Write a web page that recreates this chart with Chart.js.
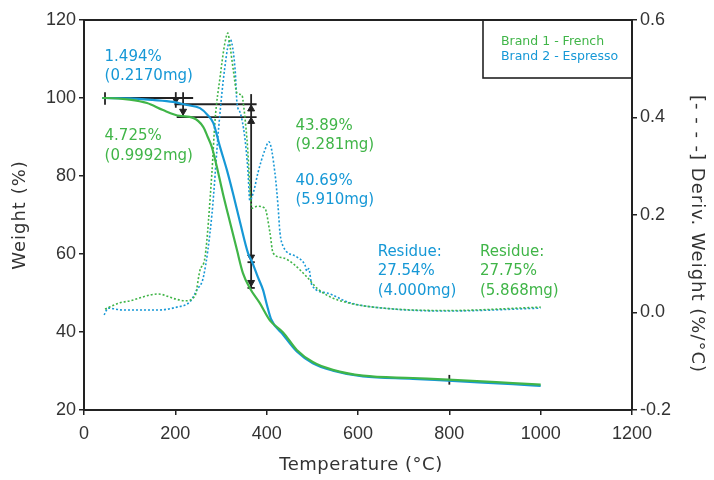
<!DOCTYPE html>
<html>
<head>
<meta charset="utf-8">
<script src="https://cdn.jsdelivr.net/npm/chart.js@4"></script>
<style>
  html, body { margin: 0; padding: 0; background: #fff; }
  #wrap { width: 714px; height: 480px; }
</style>
</head>
<body>
<div id="wrap"><canvas id="tga"></canvas></div>
<script>
// weight curves (Temperature °C -> Weight %)
const frenchTemp   = [40, 50, 100, 138, 173, 210, 239, 261, 271, 280, 291, 304, 320, 335, 348, 363, 385, 407, 436, 466, 501, 545, 611, 720, 797, 939, 1000];
const frenchWeight = [100, 100, 99.6, 98.7, 96.9, 95.4, 94.9, 92.6, 90, 87.4, 82.3, 75.6, 68, 61, 55.1, 51.3, 47.4, 43, 39.9, 35.4, 32.3, 30.3, 28.8, 28.2, 27.8, 26.9, 26.5];
const espressoTemp   = [40, 100, 150, 195, 225, 254, 271, 283, 298, 313, 327, 342, 359, 368, 381, 392, 400, 410, 436, 466, 501, 545, 611, 720, 797, 939, 1000];
const espressoWeight = [100, 99.9, 99.5, 99, 98.2, 97.4, 95.6, 93.6, 87.4, 81.5, 75.2, 68, 60.3, 58, 54, 50.8, 47.2, 43.2, 39.3, 35, 32, 30.1, 28.6, 28, 27.5, 26.6, 26.2];

// derivative curves (Temperature °C -> Deriv. Weight %/°C)
const frenchDerivTemp = [46, 79, 101, 145, 162, 199, 221, 243, 254, 265, 280, 287, 298, 308, 315, 320, 327, 335, 346, 348, 357, 368, 380, 396, 407, 414, 436, 458, 488, 510, 539, 582, 655, 795, 1000];
const frenchDeriv     = [0.007, 0.02, 0.024, 0.036, 0.038, 0.028, 0.024, 0.034, 0.087, 0.114, 0.286, 0.395, 0.483, 0.55, 0.573, 0.545, 0.497, 0.45, 0.446, 0.436, 0.354, 0.214, 0.218, 0.214, 0.165, 0.122, 0.112, 0.1, 0.073, 0.05, 0.032, 0.019, 0.009, 0.004, 0.011];
const espressoDerivTemp = [44, 53, 85, 160, 203, 232, 247, 262, 280, 295, 308, 320, 331, 335, 342, 352, 359, 363, 372, 381, 396, 405, 418, 425, 429, 436, 466, 484, 488, 492, 499, 532, 582, 655, 795, 1000];
const espressoDeriv     = [-0.005, 0.009, 0.005, 0.005, 0.011, 0.022, 0.046, 0.075, 0.2, 0.38, 0.5, 0.56, 0.497, 0.43, 0.41, 0.36, 0.29, 0.23, 0.25, 0.287, 0.333, 0.35, 0.287, 0.217, 0.165, 0.136, 0.114, 0.097, 0.085, 0.09, 0.056, 0.04, 0.02, 0.009, 0.003, 0.009];

// step-change brackets drawn on the weight axis
const bracketTemp   = [[46, 239], [198, 378], [203, 378], [46, 46], [201, 201], [217, 217], [366, 366], [358, 374], [358, 374], [800, 800]];
const bracketWeight = [[100, 100], [98.4, 98.4], [95.1, 95.1], [101.5, 98.3], [101.5, 97.5], [101.5, 95.3], [101, 51.3], [57.9, 57.9], [51.3, 51.3], [29, 26.5]];
const arrowTemp   = [201, 217, 366, 366, 366, 366];
const arrowWeight = [99.6, 96.6, 97.2, 94, 59.2, 52.7];
const arrowRot    = [180, 180, 0, 0, 180, 180];

const xTicks = [0, 200, 400, 600, 800, 1000, 1200];

const green = 'rgb(64, 181, 72)';
const blue = 'rgb(22, 152, 214)';
const ink = '#222';

function pts(xs, ys) {
    return xs.map((x, i) => ({ x: x, y: ys[i] }));
}

const datasets = [
    { data: pts(frenchTemp, frenchWeight), borderColor: green, borderWidth: 2.2, yAxisID: 'y' },
    { data: pts(espressoTemp, espressoWeight), borderColor: blue, borderWidth: 2.2, yAxisID: 'y' },
    { data: pts(frenchDerivTemp, frenchDeriv), borderColor: green, borderWidth: 1.6, borderDash: [2, 2], yAxisID: 'y2' },
    { data: pts(espressoDerivTemp, espressoDeriv), borderColor: blue, borderWidth: 1.6, borderDash: [2, 2], yAxisID: 'y2' }
];
bracketTemp.forEach((t, i) => {
    datasets.push({ data: pts(t, bracketWeight[i]), borderColor: ink, borderWidth: 1.8, tension: 0, yAxisID: 'y' });
});
datasets.push({
    type: 'scatter',
    data: pts(arrowTemp, arrowWeight),
    pointStyle: 'triangle',
    rotation: arrowRot,
    pointRadius: 4,
    backgroundColor: ink,
    borderColor: ink,
    yAxisID: 'y'
});

// text notes, anchored in data coordinates
const notes = [
    { t: 45, w: 110.5, color: blue, lines: ['1.494%', '(0.2170mg)'] },
    { t: 45, w: 90.2, color: green, lines: ['4.725%', '(0.9992mg)'] },
    { t: 463, w: 92.8, color: green, lines: ['43.89%', '(9.281mg)'] },
    { t: 463, w: 78.7, color: blue, lines: ['40.69%', '(5.910mg)'] },
    { t: 643, w: 60.5, color: blue, lines: ['Residue:', '27.54%', '(4.000mg)'] },
    { t: 867, w: 60.5, color: green, lines: ['Residue:', '27.75%', '(5.868mg)'] }
];

const decor = {
    id: 'decor',
    afterDraw(chart) {
        const ctx = chart.ctx;
        const a = chart.chartArea;
        const xs = chart.scales.x, ys = chart.scales.y;
        ctx.save();
        // top frame line
        ctx.strokeStyle = ink;
        ctx.lineWidth = 2;
        ctx.beginPath();
        ctx.moveTo(a.left, a.top);
        ctx.lineTo(a.right, a.top);
        ctx.stroke();

        // legend box
        ctx.lineWidth = 1.6;
        ctx.strokeRect(483, a.top, a.right - 483, 58);
        ctx.font = '12.5px "DejaVu Sans"';
        ctx.textBaseline = 'middle';
        ctx.textAlign = 'left';
        ctx.fillStyle = green;
        ctx.fillText('Brand 1 - French', 501, 42);
        ctx.fillStyle = blue;
        ctx.fillText('Brand 2 - Espresso', 501, 57);

        // notes
        ctx.font = '15px "DejaVu Sans"';
        notes.forEach(n => {
            const px = xs.getPixelForValue(n.t);
            const py = ys.getPixelForValue(n.w);
            ctx.fillStyle = n.color;
            n.lines.forEach((s, i) => ctx.fillText(s, px, py + i * 19.5));
        });

        // axis titles
        ctx.fillStyle = '#333';
        ctx.font = '18px "DejaVu Sans"';
        ctx.textAlign = 'center';
        ctx.letterSpacing = '0.5px';
        ctx.fillText('Temperature (°C)', (a.left + a.right) / 2 + 3, 465);
        ctx.letterSpacing = '1px';
        ctx.save();
        ctx.translate(20, 215);
        ctx.rotate(-Math.PI / 2);
        ctx.fillText('Weight (%)', 0, 0);
        ctx.restore();
        ctx.save();
        ctx.translate(697, 234);
        ctx.rotate(Math.PI / 2);
        ctx.fillText('[- - - -] Deriv. Weight (%/°C)', 0, 0);
        ctx.restore();
        ctx.restore();
    }
};

const tickFont = { family: '"Liberation Sans"', size: 18 };
const gridOpts = { display: true, drawOnChartArea: false, drawTicks: true, tickLength: 5, color: ink, lineWidth: 1.5 };
const borderOpts = { display: true, color: ink, width: 2 };

new Chart(document.getElementById('tga'), {
    type: 'line',
    data: { datasets: datasets },
    options: {
        responsive: true,
        maintainAspectRatio: false,
        animation: false,
        layout: { padding: { top: 20, left: 0, right: 0, bottom: 0 } },
        elements: {
            point: { radius: 0 },
            line: { tension: 0.35, cubicInterpolationMode: 'monotone' }
        },
        plugins: {
            legend: { display: false },
            tooltip: { enabled: false }
        },
        scales: {
            x: {
                type: 'linear',
                min: 0,
                max: 1200,
                afterFit(s) { s.height = 70; },
                afterBuildTicks(s) { s.ticks = xTicks.map(v => ({ value: v })); },
                ticks: { color: '#333', font: tickFont, padding: 8, callback: v => String(v) },
                grid: gridOpts,
                border: borderOpts
            },
            y: {
                position: 'left',
                min: 20,
                max: 120,
                afterFit(s) { s.width = 84; },
                ticks: { stepSize: 20, color: '#333', font: tickFont, padding: 3 },
                grid: gridOpts,
                border: borderOpts
            },
            y2: {
                position: 'right',
                min: -0.2,
                max: 0.6,
                afterFit(s) { s.width = 82; },
                ticks: { stepSize: 0.2, color: '#333', font: tickFont, padding: 3, callback: v => v.toFixed(1) },
                grid: gridOpts,
                border: borderOpts
            }
        }
    },
    plugins: [decor]
});
</script>
</body>
</html>
